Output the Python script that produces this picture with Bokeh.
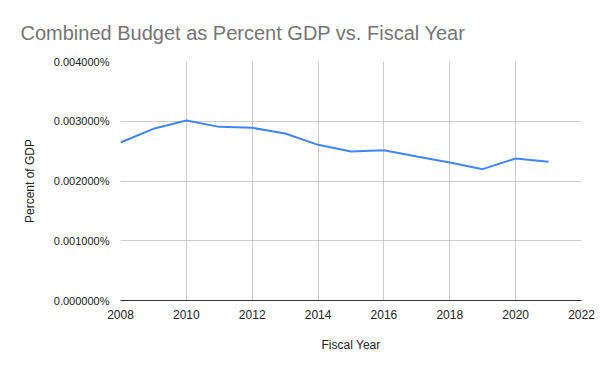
from bokeh.plotting import figure
from bokeh.models import PrintfTickFormatter, FixedTicker, Range1d, Title
from bokeh.embed import file_html
from bokeh.resources import INLINE

years = [2008, 2009, 2010, 2011, 2012, 2013, 2014, 2015, 2016, 2017, 2018, 2019, 2020, 2021]
pct_gdp = [0.002644, 0.002873, 0.003012, 0.002906, 0.002890, 0.002795, 0.002605,
           0.002494, 0.002516, 0.002410, 0.002310, 0.002198, 0.002377, 0.002321]
x_ticks = [2008, 2010, 2012, 2014, 2016, 2018, 2020, 2022]
y_ticks = [0.0, 0.001, 0.002, 0.003, 0.004]

FONT = "Liberation Sans"

p = figure(width=600, height=371, output_backend="svg", toolbar_location=None,
           x_range=Range1d(2008, 2022), y_range=Range1d(0, 0.004),
           min_border_left=120, min_border_right=19, min_border_top=61, min_border_bottom=71)

t = Title(text="Combined Budget as Percent GDP vs. Fiscal Year", align="left",
          text_font=FONT, text_font_size="20px", text_font_style="normal",
          text_color="#757575", offset=-100, standoff=36)
p.add_layout(t, "above")

p.line(years, pct_gdp, line_color="#4285F4", line_width=2)

p.outline_line_color = None
p.background_fill_color = "white"
p.border_fill_color = "white"

for g in (p.xgrid[0], p.ygrid[0]):
    g.grid_line_color = "#cccccc"
    g.grid_line_width = 1
p.xgrid[0].ticker = FixedTicker(ticks=x_ticks)
p.ygrid[0].ticker = FixedTicker(ticks=y_ticks)

xa = p.xaxis[0]
xa.ticker = FixedTicker(ticks=x_ticks)
xa.axis_line_color = "#333333"
xa.axis_line_width = 1
xa.major_tick_line_color = None
xa.minor_tick_line_color = None
xa.major_label_standoff = 3
xa.major_label_text_font = FONT
xa.major_label_text_font_size = "12px"
xa.major_label_text_color = "#222222"
xa.axis_label = "Fiscal Year"
xa.axis_label_text_font = FONT
xa.axis_label_text_font_size = "12px"
xa.axis_label_text_font_style = "normal"
xa.axis_label_text_color = "#222222"
xa.axis_label_standoff = 16

ya = p.yaxis[0]
ya.ticker = FixedTicker(ticks=y_ticks)
ya.formatter = PrintfTickFormatter(format="%.6f%%")
ya.axis_line_color = None
ya.major_tick_line_color = None
ya.minor_tick_line_color = None
ya.major_label_standoff = 5
ya.major_label_text_font = FONT
ya.major_label_text_font_size = "11px"
ya.major_label_text_color = "#222222"
ya.axis_label = "Percent of GDP"
ya.axis_label_text_font = FONT
ya.axis_label_text_font_size = "12px"
ya.axis_label_text_font_style = "normal"
ya.axis_label_text_color = "#222222"
ya.axis_label_standoff = 14

open("out.html", "w").write(file_html(p, INLINE))
